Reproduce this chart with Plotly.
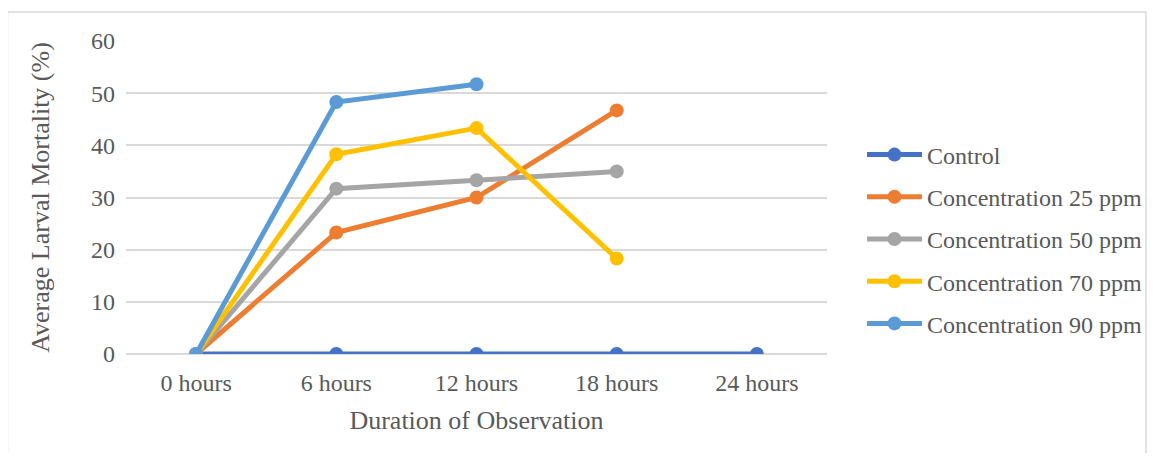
import plotly.graph_objects as go

categories = ["0 hours", "6 hours", "12 hours", "18 hours", "24 hours"]
control = [0, 0, 0, 0, 0]
c25 = [0, 23.3, 30, 46.7]
c50 = [0, 31.7, 33.3, 35]
c70 = [0, 38.3, 43.3, 18.3]
c90 = [0, 48.3, 51.7]
series_names = ["Control", "Concentration 25 ppm", "Concentration 50 ppm",
                "Concentration 70 ppm", "Concentration 90 ppm"]
series_values = [control, c25, c50, c70, c90]
colors = ["#4472C4", "#ED7D31", "#A5A5A5", "#FFC000", "#5B9BD5"]

fig = go.Figure()
for i, (name, vals, col) in enumerate(zip(series_names, series_values, colors)):
    fig.add_trace(go.Scatter(
        x=categories[:len(vals)], y=vals, name=name, mode="lines+markers",
        line=dict(color=col, width=5), marker=dict(color=col, size=14),
        legendgroup=f"g{i}"))

font_family = "Liberation Serif"
OFF = 8  # page offset of the figure (body margin)
L, R, T, B = 126, 827, 41, 354  # plot area in page pixels
W, H = 1155 - 2 * OFF, 461 - 2 * OFF
pw, ph = R - L, B - T

def px(x):
    return (x - L) / pw

def py(y):
    return (B - y) / ph

fig.update_layout(
    width=W, height=H,
    margin=dict(l=L - OFF, r=W - (R - OFF), t=T - OFF, b=H - (B - OFF), autoexpand=False),
    paper_bgcolor="white", plot_bgcolor="white",
    font=dict(family=font_family, color="#595959", size=24),
    showlegend=True,
    legend=dict(x=px(862), y=py(239), xanchor="left", yanchor="middle",
                traceorder="grouped", tracegroupgap=8, itemwidth=55,
                font=dict(size=24, color="#595959"), bgcolor="rgba(0,0,0,0)"),
    xaxis=dict(type="category", categoryorder="array", categoryarray=categories,
               range=[-0.5, 4.5], showgrid=False, showline=False, zeroline=False,
               ticks="", tickfont=dict(size=24), ticklabelstandoff=12,
               title=dict(text="Duration of Observation", font=dict(size=26), standoff=15)),
    yaxis=dict(range=[0, 60], dtick=10, showgrid=True, gridcolor="#D9D9D9", gridwidth=2,
               zeroline=True, zerolinecolor="#D9D9D9", zerolinewidth=2,
               showline=False, ticks="", tickfont=dict(size=24), ticklabelstandoff=10,
               title=dict(text="Average Larval Mortality (%)", font=dict(size=26), standoff=33)),
    shapes=[dict(type="rect", xref="paper", yref="paper",
                 x0=px(7.5), x1=px(1146), y0=py(470), y1=py(12),
                 line=dict(color="#D9D9D9", width=1.5), fillcolor="rgba(0,0,0,0)",
                 layer="below")],
)

fig.write_html("out.html")
